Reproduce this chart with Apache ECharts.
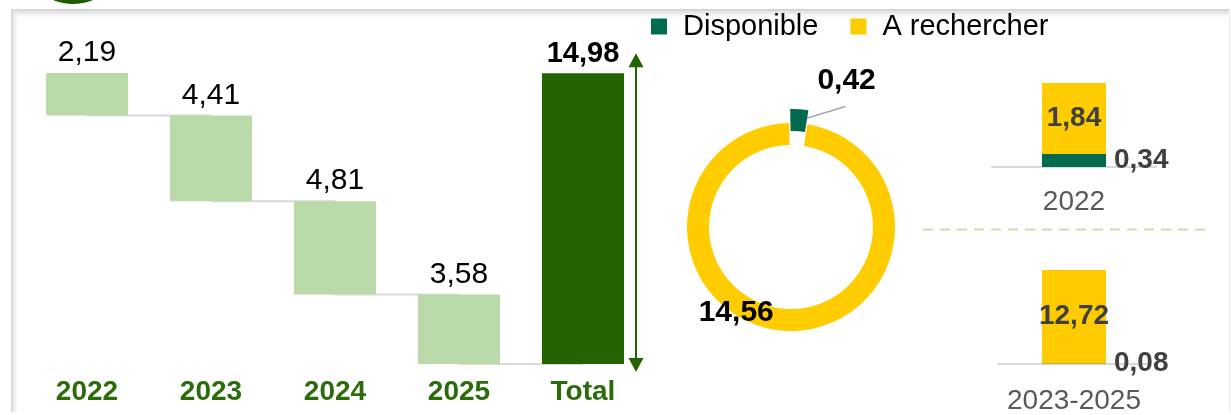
<!DOCTYPE html>
<html lang="fr">
<head>
    <meta charset="UTF-8">
    <title>Financement</title>
    <script src="https://cdn.jsdelivr.net/npm/echarts@6/dist/echarts.min.js"></script>
    <style>
        html, body { margin: 0; padding: 0; background: #fff; }
    </style>
</head>
<body>
<div id="main" style="width:1231px;height:415px;"></div>
<script>
    // waterfall
    var years = ['2022', '2023', '2024', '2025', 'Total'];
    var yearValues = [2.19, 4.41, 4.81, 3.58];
    var totalValue = 14.98;
    // donut
    var donutNames = ['Disponible', 'A rechercher'];
    var donutValues = [0.42, 14.56];
    // small stacked bars
    var periods = ['2022', '2023-2025'];
    var disponible = [0.34, 0.08];
    var aRechercher = [1.84, 12.72];

    var FONT = '"Liberation Sans", Arial, sans-serif';
    var GREEN_DARK = '#246400';
    var GREEN_LIGHT = '#bbdaa9';
    var GREEN_TEXT = '#2a6b0a';
    var TEAL = '#006b4f';
    var YELLOW = '#ffcc00';

    function fmt(v) { return v.toFixed(2).replace('.', ','); }

    // bases for the floating bars
    var bases = [];
    var sumAll = 0;
    for (var i = 0; i < yearValues.length; i++) sumAll += yearValues[i];
    var rest = sumAll;
    for (var i = 0; i < yearValues.length; i++) {
        rest -= yearValues[i];
        bases.push(+rest.toFixed(2));
    }
    var baseData = bases.concat([0]);
    var barData = yearValues.map(function (v) {
        return { value: v, itemStyle: { color: GREEN_LIGHT } };
    });
    barData.push({
        value: totalValue,
        itemStyle: { color: GREEN_DARK },
        label: { fontWeight: 'bold', fontSize: 29 }
    });

    var grids = [{ left: 25, width: 620, top: 73, height: 291 }];
    var xAxes = [{
        gridIndex: 0, type: 'category', data: years,
        axisLine: { show: false }, axisTick: { show: false },
        axisLabel: { color: GREEN_TEXT, fontWeight: 'bold', fontSize: 28, fontFamily: FONT, margin: 14 }
    }];
    var yAxes = [{ gridIndex: 0, type: 'value', min: 0, max: Math.max(sumAll, totalValue), show: false }];

    var series = [
        {
            type: 'line', step: 'end', data: baseData, symbol: 'none', silent: true, z: 0,
            lineStyle: { color: '#d9d9d9', width: 2 }
        },
        {
            type: 'bar', stack: 'wf', data: baseData, barWidth: 82, silent: true,
            itemStyle: { color: 'transparent' }
        },
        {
            type: 'bar', stack: 'wf', data: barData, barWidth: 82, z: 3,
            label: {
                show: true, position: 'top', distance: 5, color: '#000', fontSize: 30, fontFamily: FONT,
                formatter: function (p) { return fmt(p.value); }
            }
        },
        {
            type: 'pie', center: [791, 227], radius: [82, 104], startAngle: 91, clockwise: true,
            selectedMode: 'single', selectedOffset: 14, avoidLabelOverlap: false,
            data: [
                {
                    name: donutNames[0], value: donutValues[0], selected: true,
                    itemStyle: { color: TEAL },
                    label: { position: 'outside' },
                    labelLine: { show: true, lineStyle: { color: '#a6a6a6', width: 1.5 } }
                },
                {
                    name: donutNames[1], value: donutValues[1],
                    itemStyle: { color: YELLOW },
                    label: { position: 'inside' },
                    labelLine: { show: false }
                }
            ],
            label: {
                show: true, color: '#000', fontSize: 30, fontWeight: 'bold', fontFamily: FONT,
                formatter: function (p) { return fmt(p.value); }
            },
            labelLayout: function (p) {
                if (p.dataIndex === 0) {
                    var cx = p.rect.x + p.rect.width / 2;
                    var cy = p.rect.y + p.rect.height / 2;
                    var ex = cx + 46, ey = cy - 14;
                    return {
                        dx: -18, dy: -14,
                        labelLinePoints: [[cx, cy], [ex, ey], [ex, ey]]
                    };
                }
                return { dx: -24, dy: -5 };
            }
        }
    ];

    var smallGrids = [
        { left: 992, width: 164, top: 83, height: 84 },
        { left: 998, width: 152, top: 270, height: 98 }
    ];
    var smallMargins = [21, 23];
    periods.forEach(function (name, k) {
        var gi = k + 1;
        grids.push(smallGrids[k]);
        xAxes.push({
            gridIndex: gi, type: 'category', data: [name],
            axisLine: { lineStyle: { color: '#d9d9d9', width: 2 } },
            axisTick: { show: false },
            axisLabel: { color: '#595959', fontSize: 28, fontFamily: FONT, margin: smallMargins[k] }
        });
        yAxes.push({ gridIndex: gi, type: 'value', min: 0, max: disponible[k] + aRechercher[k], show: false });
        series.push({
            name: 'Disponible', type: 'bar', stack: 's' + k, xAxisIndex: gi, yAxisIndex: gi,
            data: [disponible[k]], barWidth: 64, itemStyle: { color: TEAL },
            label: {
                show: true, position: 'right', distance: 8, color: '#404040', fontSize: 28,
                fontWeight: 'bold', fontFamily: FONT,
                formatter: function (p) { return fmt(p.value); }
            }
        });
        series.push({
            name: 'A rechercher', type: 'bar', stack: 's' + k, xAxisIndex: gi, yAxisIndex: gi,
            data: [aRechercher[k]], barWidth: 64, itemStyle: { color: YELLOW },
            label: {
                show: true, position: 'inside', color: '#404040', fontSize: 28,
                fontWeight: 'bold', fontFamily: FONT,
                formatter: function (p) { return fmt(p.value); }
            }
        });
    });

    var chart = echarts.init(document.getElementById('main'), null, { renderer: 'canvas' });
    chart.setOption({
        animation: false,
        textStyle: { fontFamily: FONT },
        legend: {
            data: donutNames, left: 651, top: 12, padding: 0, icon: 'rect', itemWidth: 16, itemHeight: 16,
            itemGap: 32, selectedMode: false,
            textStyle: { color: '#000', fontSize: 29, fontFamily: FONT, padding: [0, 0, 0, 11] }
        },
        grid: grids,
        xAxis: xAxes,
        yAxis: yAxes,
        series: series
    });

    // frame, arrow and separators
    var ax = chart.convertToPixel({ xAxisIndex: 0 }, 'Total') + 41 + 12;
    var ayTop = chart.convertToPixel({ yAxisIndex: 0 }, totalValue) - 20;
    var ayBot = chart.convertToPixel({ yAxisIndex: 0 }, 0) + 8;
    chart.setOption({
        graphic: [
            { type: 'circle', shape: { cx: 73, cy: -46, r: 50 }, style: { fill: '#1e5c00' }, z: -5 },
            {
                type: 'rect', shape: { x: 11, y: 9, width: 1219, height: 11 }, z: -5,
                style: { fill: new echarts.graphic.LinearGradient(0, 0, 0, 1, [
                    { offset: 0, color: '#cdcdcd' }, { offset: 1, color: 'rgba(255,255,255,0)' }]) }
            },
            {
                type: 'rect', shape: { x: 11, y: 9, width: 9, height: 404 }, z: -5,
                style: { fill: new echarts.graphic.LinearGradient(0, 0, 1, 0, [
                    { offset: 0, color: '#d2d2d2' }, { offset: 1, color: 'rgba(255,255,255,0)' }]) }
            },
            { type: 'line', shape: { x1: 1229.5, y1: 9, x2: 1229.5, y2: 412 }, style: { stroke: '#ececec', lineWidth: 1 }, z: -5 },
            { type: 'line', shape: { x1: 923, y1: 229.5, x2: 1212, y2: 229.5 }, style: { stroke: '#c5e0b4', lineWidth: 2, lineDash: [10, 7] } },
            { type: 'line', shape: { x1: ax, y1: ayTop + 10, x2: ax, y2: ayBot - 10 }, style: { stroke: GREEN_DARK, lineWidth: 2 } },
            { type: 'polygon', shape: { points: [[ax, ayTop], [ax - 7.5, ayTop + 14], [ax + 7.5, ayTop + 14]] }, style: { fill: GREEN_DARK } },
            { type: 'polygon', shape: { points: [[ax, ayBot], [ax - 7.5, ayBot - 14], [ax + 7.5, ayBot - 14]] }, style: { fill: GREEN_DARK } },
            { type: 'rect', shape: { x: 0, y: 412, width: 1231, height: 3 }, style: { fill: '#fff' }, z: 100 }
        ]
    });
</script>
</body>
</html>
